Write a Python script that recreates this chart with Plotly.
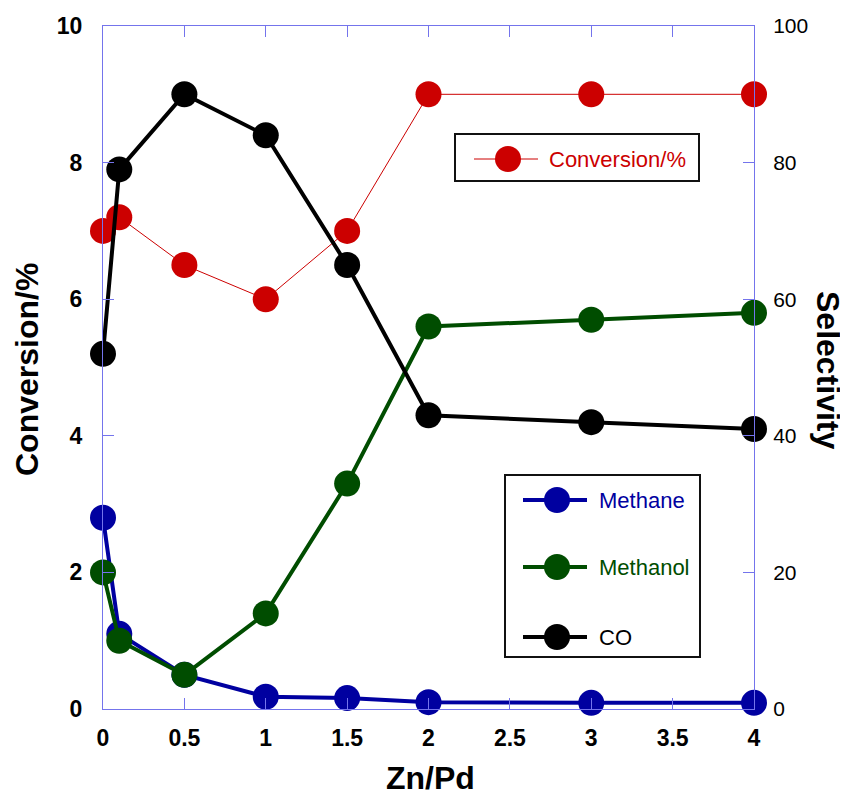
import plotly.graph_objects as go

# ---- data ----
zn_pd = [0, 0.1, 0.5, 1, 1.5, 2, 3, 4]
conversion = [7.0, 7.2, 6.5, 6.0, 7.0, 9.0, 9.0, 9.0]
methane = [28, 11, 5, 1.8, 1.6, 1.0, 0.9, 0.9]
methanol = [20, 10, 5, 14, 33, 56, 57, 58]
co = [52, 79, 90, 84, 65, 43, 42, 41]

x_ticks = [0, 0.5, 1, 1.5, 2, 2.5, 3, 3.5, 4]
x_tick_text = ["0", "0.5", "1", "1.5", "2", "2.5", "3", "3.5", "4"]
left_ticks = [0, 2, 4, 6, 8, 10]
right_ticks = [0, 20, 40, 60, 80, 100]

RED = "#cc0000"
BLUE = "#0000a0"
GREEN = "#004d00"
BLACK = "#000000"
AXIS = "#7474ec"
FONT = "Liberation Sans, Arial, sans-serif"

# page body margin offset (8px) compensation
OFF = 8
W, H = 848 - OFF, 799 - OFF
# plot area in page pixels: x 103..754, y 26..709
L, R, T, B = 103 - OFF, 848 - 754, 26 - OFF, 799 - 709
PW, PH = W - L - R, H - T - B


def px(xp):
    return (xp - OFF - L) / PW


def py(yp):
    return (OFF + H - B - yp) / PH


fig = go.Figure()
fig.add_trace(go.Scatter(x=zn_pd, y=conversion, mode="lines+markers", name="Conversion/%",
                         line=dict(color=RED, width=1), marker=dict(color=RED, size=26),
                         cliponaxis=False, yaxis="y"))
fig.add_trace(go.Scatter(x=zn_pd, y=methane, mode="lines+markers", name="Methane",
                         line=dict(color=BLUE, width=4), marker=dict(color=BLUE, size=26),
                         cliponaxis=False, yaxis="y2"))
fig.add_trace(go.Scatter(x=zn_pd, y=methanol, mode="lines+markers", name="Methanol",
                         line=dict(color=GREEN, width=4), marker=dict(color=GREEN, size=26),
                         cliponaxis=False, yaxis="y2"))
fig.add_trace(go.Scatter(x=zn_pd, y=co, mode="lines+markers", name="CO",
                         line=dict(color=BLACK, width=4), marker=dict(color=BLACK, size=26),
                         cliponaxis=False, yaxis="y2"))

shapes = []
annotations = []

# legend boxes
shapes.append(dict(type="rect", xref="paper", yref="paper", x0=px(455), x1=px(699),
                   y0=py(181), y1=py(134), line=dict(color="#111111", width=2),
                   fillcolor="white", layer="above"))
shapes.append(dict(type="rect", xref="paper", yref="paper", x0=px(505), x1=px(700),
                   y0=py(657), y1=py(475), line=dict(color="#111111", width=2),
                   fillcolor="white", layer="above"))

legend_items = [
    ("Conversion/%", RED, 1, 474, 538, 508, 159, 547),
    ("Methane", BLUE, 4, 523, 587, 557, 500, 597),
    ("Methanol", GREEN, 4, 523, 587, 557, 567, 597),
    ("CO", BLACK, 4, 523, 587, 557, 637, 597),
]
for name, col, lw, lx0, lx1, cx, cy, tx in legend_items:
    shapes.append(dict(type="line", xref="paper", yref="paper", x0=px(lx0), x1=px(lx1),
                       y0=py(cy), y1=py(cy), line=dict(color=col, width=lw), layer="above"))
    shapes.append(dict(type="circle", xref="paper", yref="paper", xsizemode="pixel",
                       ysizemode="pixel", xanchor=px(cx), yanchor=py(cy),
                       x0=-13, x1=13, y0=-13, y1=13, fillcolor=col,
                       line=dict(color=col, width=0), layer="above"))
    annotations.append(dict(text=name, xref="paper", yref="paper", x=px(tx), y=py(cy),
                            xanchor="left", yanchor="middle", showarrow=False,
                            font=dict(family=FONT, size=22, color=col)))

# axis titles
annotations.append(dict(text="<b>Conversion/%</b>", xref="paper", yref="paper", x=px(27), y=py(370),
                        xanchor="center", yanchor="middle", textangle=-90,
                        showarrow=False, font=dict(family=FONT, size=32, color="black")))
annotations.append(dict(text="<b>Selectivity</b>", xref="paper", yref="paper", x=px(828), y=py(370),
                        xanchor="center", yanchor="middle", textangle=90,
                        showarrow=False, font=dict(family=FONT, size=32, color="black")))
annotations.append(dict(text="<b>Zn/Pd</b>", xref="paper", yref="paper", x=px(430), y=py(778),
                        xanchor="center", yanchor="middle",
                        showarrow=False, font=dict(family=FONT, size=32, color="black")))

fig.update_layout(
    width=W, height=H,
    autosize=False,
    margin=dict(l=L, r=R, t=T, b=B, pad=0, autoexpand=False),
    paper_bgcolor="white", plot_bgcolor="white",
    showlegend=False,
    shapes=shapes, annotations=annotations,
    xaxis=dict(range=[0, 4], tickvals=x_ticks, ticktext=x_tick_text, automargin=False,
               showline=True, linecolor=AXIS, linewidth=1, mirror="ticks",
               ticks="inside", ticklen=11, tickcolor=AXIS, tickwidth=1,
               showgrid=False, zeroline=False, ticklabelstandoff=8,
               tickfont=dict(family=FONT, size=23, color="black", weight="bold")),
    yaxis=dict(range=[0, 10], tickvals=left_ticks, automargin=False,
               showline=True, linecolor=AXIS, linewidth=1,
               ticks="inside", ticklen=11, tickcolor=AXIS, tickwidth=1,
               showgrid=False, zeroline=False, ticklabelstandoff=15,
               tickfont=dict(family=FONT, size=23, color="black", weight="bold")),
    yaxis2=dict(range=[0, 100], tickvals=right_ticks, overlaying="y", side="right",
                automargin=False,
                showline=True, linecolor=AXIS, linewidth=1,
                ticks="inside", ticklen=11, tickcolor=AXIS, tickwidth=1,
                showgrid=False, zeroline=False, ticklabelstandoff=14,
                tickfont=dict(family=FONT, size=21, color="black")),
)

fig.write_html("out.html")
